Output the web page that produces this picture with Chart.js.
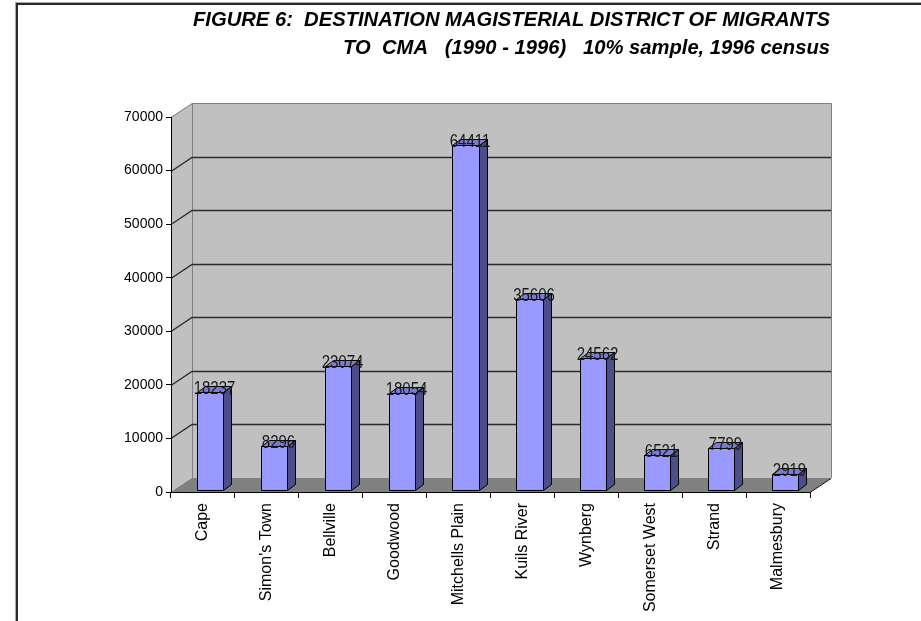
<!DOCTYPE html>
<html>
<head>
<meta charset="utf-8">
<title>Destination magisterial district of migrants to CMA</title>
<script src="https://cdn.jsdelivr.net/npm/chart.js@4/dist/chart.umd.min.js"></script>
<style>
    html, body { margin: 0; padding: 0; background: #fff; }
    canvas { display: block; }
</style>
</head>
<body>
<canvas id="chart-districts" width="921" height="621"></canvas>
<script>
/* Values */
const districts = ['Cape', "Simon's Town", 'Bellville', 'Goodwood', 'Mitchells Plain',
    'Kuils River', 'Wynberg', 'Somerset West', 'Strand', 'Malmesbury'];
const migrants = [18237, 8296, 23074, 18054, 64411, 35606, 24562, 6521, 7799, 2919];
const yTicks = [0, 10000, 20000, 30000, 40000, 50000, 60000, 70000];
const titleLines = [
    'FIGURE 6:  DESTINATION MAGISTERIAL DISTRICT OF MIGRANTS',
    'TO  CMA   (1990 - 1996)   10% sample, 1996 census'
];

// fake 3d offsets (excel style)
const wallDepth = { x: 21, y: -14 };
const barDepth = { x: 8, y: -6 };
const barShift = { x: 7, y: -2 };

Chart.defaults.font.family = '"Liberation Sans", Arial, sans-serif';
Chart.defaults.color = '#000';

function poly(ctx, pts) {
    ctx.beginPath();
    ctx.moveTo(pts[0][0], pts[0][1]);
    for (let i = 1; i < pts.length; i++) ctx.lineTo(pts[i][0], pts[i][1]);
    ctx.closePath();
}

const excel3d = {
    id: 'excel3d',
    beforeDraw(chart) {
        const ctx = chart.ctx;
        const { left, right, top, bottom } = chart.chartArea;
        const yScale = chart.scales.y;
        const dx = wallDepth.x, dy = wallDepth.y;
        ctx.save();

        // page frame
        ctx.fillStyle = '#a8a8a8';
        ctx.fillRect(15, 2, 906, 1);
        ctx.fillRect(15, 2, 1, 619);
        ctx.fillStyle = '#2a2a2a';
        ctx.fillRect(16, 3, 905, 2);
        ctx.fillRect(16, 3, 2, 618);

        // title, squeezed like the narrow font of the original
        ctx.fillStyle = '#000';
        ctx.font = 'bold italic 21px "Liberation Sans Narrow", "Liberation Sans", Arial, sans-serif';
        ctx.textAlign = 'right';
        ctx.textBaseline = 'alphabetic';
        const sx = 637 / ctx.measureText(titleLines[0]).width;
        ctx.save();
        ctx.translate(830, 0);
        ctx.scale(sx, 1);
        ctx.fillText(titleLines[0], 0, 26);
        ctx.fillText(titleLines[1], 0, 54);
        ctx.restore();

        // side + back wall
        ctx.fillStyle = '#c0c0c0';
        poly(ctx, [[left, top], [left + dx, top + dy], [right + dx, top + dy],
            [right + dx, bottom + dy], [right, bottom], [left, bottom]]);
        ctx.fill();

        // floor
        ctx.fillStyle = '#808080';
        poly(ctx, [[left, bottom], [left + dx, bottom + dy], [right + dx, bottom + dy], [right, bottom]]);
        ctx.fill();

        // wall edges
        ctx.lineWidth = 1;
        ctx.strokeStyle = '#808080';
        ctx.beginPath();
        ctx.moveTo(left, top + 0.5);
        ctx.lineTo(left + dx + 0.5, top + dy + 0.5);
        ctx.lineTo(right + dx + 0.5, top + dy + 0.5);
        ctx.lineTo(right + dx + 0.5, bottom + dy);
        ctx.moveTo(left + dx + 0.5, top + dy);
        ctx.lineTo(left + dx + 0.5, bottom + dy);
        ctx.stroke();

        // gridlines on side and back wall
        ctx.strokeStyle = '#2a2a2a';
        ctx.lineWidth = 1.3;
        yTicks.forEach(v => {
            if (v === 0 || v === yTicks[yTicks.length - 1]) return;
            const py = Math.round(yScale.getPixelForValue(v)) + 0.5;
            ctx.beginPath();
            ctx.moveTo(left, py);
            ctx.lineTo(left + dx, py + dy);
            ctx.lineTo(right + dx, py + dy);
            ctx.stroke();
        });

        // floor right edge
        ctx.lineWidth = 1;
        ctx.strokeStyle = '#000';
        ctx.beginPath();
        ctx.moveTo(right, bottom + 0.5);
        ctx.lineTo(right + dx, bottom + dy + 0.5);
        ctx.stroke();
        ctx.restore();
    },
    afterDatasetsDraw(chart) {
        const ctx = chart.ctx;
        const meta = chart.getDatasetMeta(0);
        const bx = barDepth.x, by = barDepth.y;
        ctx.save();
        ctx.lineWidth = 1;
        ctx.strokeStyle = '#000';
        meta.data.forEach((bar, i) => {
            const p = bar.getProps(['x', 'y', 'base', 'width'], true);
            const x0 = Math.round(p.x - p.width / 2 + barShift.x) + 0.5;
            const x1 = Math.round(p.x + p.width / 2 + barShift.x) + 0.5;
            const y0 = Math.round(p.y + barShift.y) + 0.5;
            const y1 = Math.round(p.base + barShift.y) + 0.5;

            // side
            ctx.fillStyle = '#4d4d8a';
            poly(ctx, [[x1, y1], [x1 + bx, y1 + by], [x1 + bx, y0 + by], [x1, y0]]);
            ctx.fill(); ctx.stroke();
            // top
            ctx.fillStyle = '#7b7bd2';
            poly(ctx, [[x0, y0], [x0 + bx, y0 + by], [x1 + bx, y0 + by], [x1, y0]]);
            ctx.fill(); ctx.stroke();
            // front
            ctx.fillStyle = '#9999ff';
            poly(ctx, [[x0, y0], [x1, y0], [x1, y1], [x0, y1]]);
            ctx.fill(); ctx.stroke();

            // value label (taller digits, as in the original)
            ctx.fillStyle = '#1a1a1a';
            ctx.font = '15px "Liberation Sans", Arial, sans-serif';
            ctx.textAlign = 'center';
            ctx.textBaseline = 'alphabetic';
            ctx.save();
            ctx.translate((x0 + x1) / 2 + bx / 2, y0 + 1);
            ctx.scale(1, 1.2);
            ctx.fillText(String(migrants[i]), 0, 0);
            ctx.restore();
        });
        ctx.restore();
    }
};

new Chart(document.getElementById('chart-districts'), {
    type: 'bar',
    data: {
        labels: districts,
        datasets: [{
            label: 'Migrants',
            data: migrants,
            backgroundColor: 'rgba(0,0,0,0)',
            borderWidth: 0,
            categoryPercentage: 1,
            barPercentage: 0.41
        }]
    },
    options: {
        responsive: false,
        animation: false,
        devicePixelRatio: 1,
        layout: { padding: { top: 117, left: 0, right: 111, bottom: 0 } },
        plugins: {
            legend: { display: false },
            title: { display: false },
            tooltip: { enabled: false }
        },
        scales: {
            x: {
                grid: { drawOnChartArea: false, offset: true, tickLength: 6, color: '#000' },
                border: { color: '#000' },
                ticks: { autoSkip: false, minRotation: 90, maxRotation: 90, padding: 5, font: { size: 16 } },
                afterFit: (s) => { s.height = 129; }
            },
            y: {
                min: 0,
                max: yTicks[yTicks.length - 1],
                afterBuildTicks: (s) => { s.ticks = yTicks.map(v => ({ value: v })); },
                grid: { drawOnChartArea: false, tickLength: 5, color: '#000' },
                border: { color: '#000' },
                ticks: { padding: 3, font: { size: 14 }, callback: (v) => String(v) },
                afterFit: (s) => { s.width = 171; }
            }
        }
    },
    plugins: [excel3d]
});
</script>
</body>
</html>
